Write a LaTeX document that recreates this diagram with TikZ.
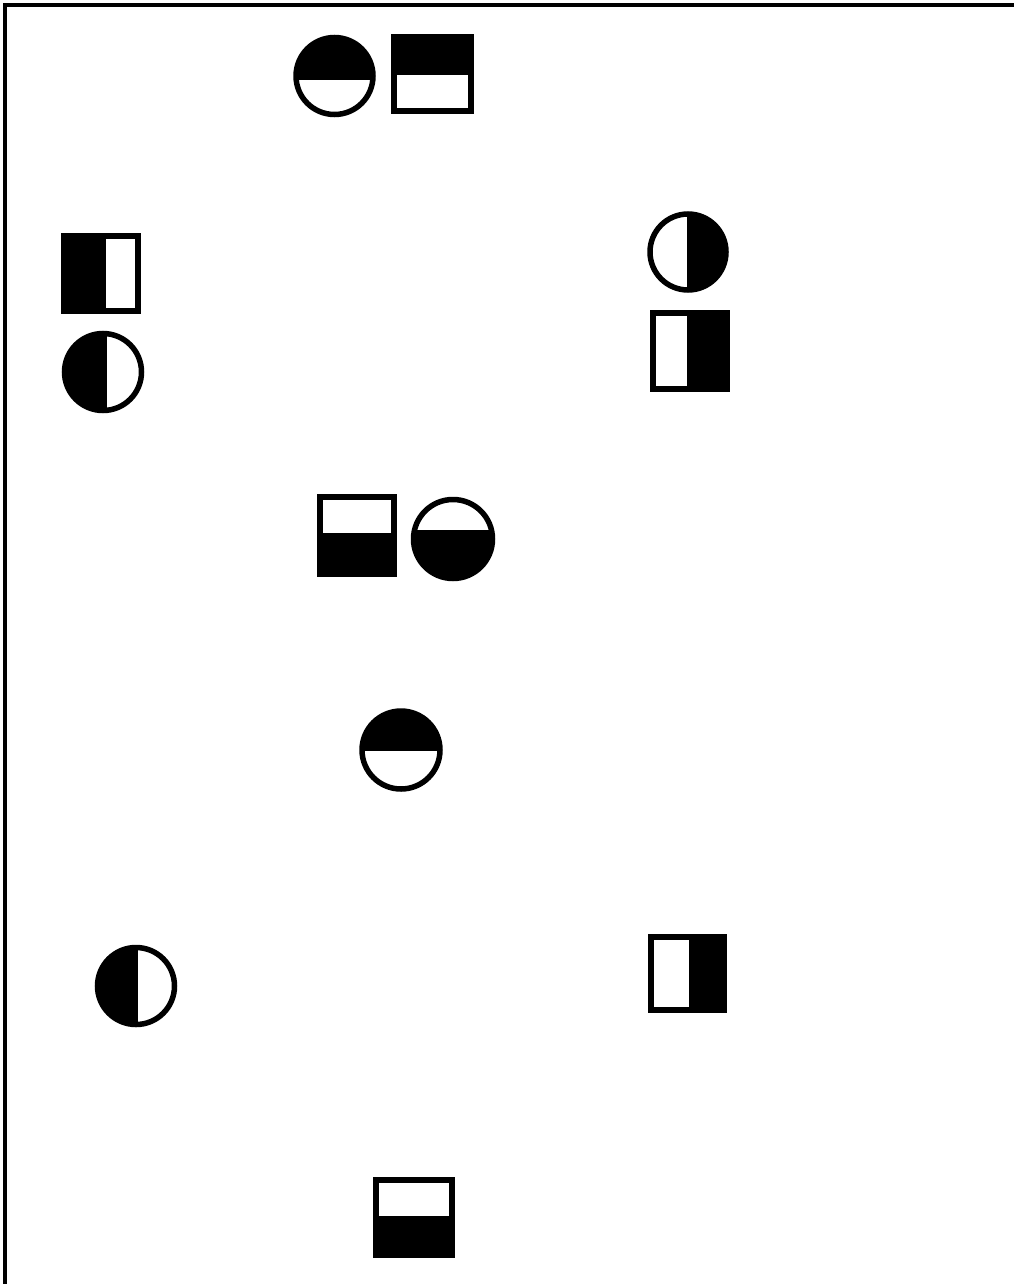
\documentclass[tikz,border=0pt]{standalone}
\usepackage{tikz}
\tikzset{
  frame/.style={line width=4.2pt, line cap=rect},
  symline/.style={line width=5.5pt, draw=black},
  halffill/.style={fill=black}
}
\newcommand\hcirc[4]{%
  \begin{scope}\clip (#1,#2) circle[radius=#3pt]; \fill[halffill] #4; \end{scope}
  \draw[symline] (#1,#2) circle[radius=#3pt];}
\newcommand\hsq[3]{%
  \fill[halffill] #3;
  \draw[symline] #1 rectangle #2;}
\begin{document}
\begin{tikzpicture}[x=1pt,y=-1pt]
\useasboundingbox (0,0) rectangle (1013,1284);
\fill[white] (0,0) rectangle (1013,1284);
% frame
\draw[frame] (4.8,1290) -- (4.8,4.8) -- (1020,4.8);
% top pair
\hcirc{334.5}{76}{38.5}{(290,30) rectangle (380,80)}
\hsq{(394,37)}{(471,111)}{(394,37) rectangle (471,75)}
% left pair
\hsq{(64,236)}{(138,311)}{(64,236) rectangle (106,311)}
\hcirc{103}{372}{38.5}{(60,330) rectangle (107,415)}
% right pair
\hcirc{688}{252}{38}{(687,210) rectangle (730,295)}
\hsq{(653,313)}{(727,389)}{(687,313) rectangle (727,389)}
% middle pair
\hsq{(320,497)}{(394,574)}{(320,533) rectangle (394,574)}
\hcirc{453}{539}{39.5}{(410,530) rectangle (500,585)}
% single circle
\hcirc{401}{750}{39}{(358,705) rectangle (445,751)}
% lower left circle
\hcirc{136}{986}{38.5}{(94,944) rectangle (138,1028)}
% lower right square
\hsq{(651,937)}{(724,1010)}{(689,937) rectangle (724,1010)}
% bottom square
\hsq{(376,1180)}{(452,1255)}{(376,1216) rectangle (452,1255)}
\end{tikzpicture}
\end{document}
